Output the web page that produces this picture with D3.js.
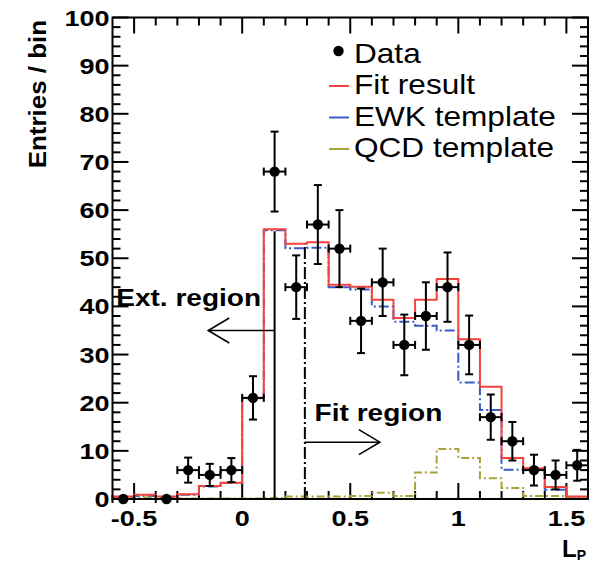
<!DOCTYPE html>
<html>
<head>
<meta charset="utf-8">
<script src="https://cdn.jsdelivr.net/npm/d3@7"></script>
<style>
  body { margin: 0; background: #fff; }
  text { font-family: "Liberation Sans", Arial, sans-serif; }
</style>
</head>
<body>
<svg id="chart"></svg>
<script>

// bins of width 0.1 from -0.6 to 1.6
var binCenters = [-0.55, -0.45, -0.35, -0.25, -0.15, -0.05, 0.05, 0.15, 0.25, 0.35, 0.45,
                  0.55, 0.65, 0.75, 0.85, 0.95, 1.05, 1.15, 1.25, 1.35, 1.45, 1.55];
var binHalf = 0.05;

var dataCounts = [0, null, 0, 6, 5, 6, 21, 68, 44, 57, 52, 37, 45, 32, 38, 44, 32, 17, 12, 6, 5, 7];
var dataErrors = [0, null, 0, 2.6, 2.3, 2.5, 4.5, 8.3, 6.6, 8.2, 8, 6.7, 7, 6.3, 7, 7.2, 6.1, 4.7, 4, 3.2, 3, 3.2];

var fitResult   = [0.5, 0.9, 0.5, 1.0, 2.7, 3.4, 21, 56, 53, 53.3, 44.5, 44.1, 41.4, 37.6, 41.4, 45.7, 33.2, 23.3, 8.5, 6.4, 2.5, 0.5];
var ewkTemplate = [0.4, 0.6, 0.4, 0.9, 2.6, 3.3, 20.9, 55.8, 52.1, 52.2, 44, 43.5, 40, 36.8, 36, 35, 24.2, 18.5, 6.1, 6.0, 1.9, 0.3];
var qcdTemplate = [0.1, 0.3, 0.1, 0.1, 0.1, 0.1, 0.1, 0.2, 0.5, 0.5, 0.5, 0.6, 1.3, 0.6, 5.5, 10.4, 8.5, 4.3, 2.3, 0.6, 0.6, 0.3];

var xMajor = [-0.5, 0, 0.5, 1, 1.5];
var xMajorLabels = ["-0.5", "0", "0.5", "1", "1.5"];
var yMajor = [0, 10, 20, 30, 40, 50, 60, 70, 80, 90, 100];

var legendItems = ["Data", "Fit result", "EWK template", "QCD template"];

// region cuts
var extCut = 0.15, fitCut = 0.29;

var width = 592, height = 562;
var pLeft = 112.5, pRight = 588, pTop = 17.5, pBottom = 499;

var svg = d3.select("#chart")
            .attr("width", width)
            .attr("height", height);

var x = d3.scaleLinear().domain([-0.6, 1.6]).range([pLeft, pRight]);
var y = d3.scaleLinear().domain([0, 100]).range([pBottom, pTop]);

var red = "#f2433c", blue = "#3b5cc4", olive = "#a9a23a";

// minor ticks every 0.1 / every 2
var xMinor = d3.range(-5, 16).map(i => i / 10).filter(v => xMajor.indexOf(v) < 0);
var yMinor = d3.range(0, 101, 2).filter(v => v % 10 !== 0);

var tickGp = svg.append("g").attr("stroke", "#000").attr("stroke-width", 2);

function tickSet(vals, len, horiz) {
  vals.forEach(v => {
    if (horiz) {
      tickGp.append("line").attr("x1", x(v)).attr("x2", x(v)).attr("y1", pBottom).attr("y2", pBottom - len);
      tickGp.append("line").attr("x1", x(v)).attr("x2", x(v)).attr("y1", pTop).attr("y2", pTop + len);
    } else {
      tickGp.append("line").attr("y1", y(v)).attr("y2", y(v)).attr("x1", pLeft).attr("x2", pLeft + len);
      tickGp.append("line").attr("y1", y(v)).attr("y2", y(v)).attr("x1", pRight).attr("x2", pRight - len);
    }
  });
}
tickSet(xMajor, 16, true);
tickSet(xMinor, 8, true);
tickSet(yMajor, 16, false);
tickSet(yMinor, 8, false);

// histograms as steps
function stepPoints(vals) {
  var pts = [];
  vals.forEach((v, i) => {
    pts.push([binCenters[i] - binHalf, v]);
    pts.push([binCenters[i] + binHalf, v]);
  });
  return pts;
}
var stepLine = d3.line().x(p => x(p[0])).y(p => y(p[1]));

svg.append("path").attr("d", stepLine(stepPoints(ewkTemplate)))
   .attr("fill", "none").attr("stroke", blue).attr("stroke-width", 2)
   .attr("stroke-dasharray", "10,3,2,3");
svg.append("path").attr("d", stepLine(stepPoints(qcdTemplate)))
   .attr("fill", "none").attr("stroke", olive).attr("stroke-width", 2)
   .attr("stroke-dasharray", "8,3,2,3");
svg.append("path").attr("d", stepLine(stepPoints(fitResult)))
   .attr("fill", "none").attr("stroke", red).attr("stroke-width", 2);

// region lines and arrows
svg.append("line").attr("x1", x(extCut)).attr("x2", x(extCut)).attr("y1", y(0)).attr("y2", y(55.6))
   .attr("stroke", "#000").attr("stroke-width", 2);
svg.append("line").attr("x1", x(fitCut)).attr("x2", x(fitCut)).attr("y1", y(0)).attr("y2", y(53))
   .attr("stroke", "#000").attr("stroke-width", 2).attr("stroke-dasharray", "12,3,2,3");

function arrow(x0, x1, yv) {
  var g = svg.append("g").attr("stroke", "#000").attr("stroke-width", 1.6).attr("fill", "none");
  var dir = x1 < x0 ? 1 : -1;
  g.append("line").attr("x1", x(x0)).attr("x2", x(x1)).attr("y1", y(yv)).attr("y2", y(yv));
  g.append("path").attr("d", "M" + (x(x1) + dir * 21) + "," + (y(yv) - 12.5) +
      "L" + x(x1) + "," + y(yv) + "L" + (x(x1) + dir * 21) + "," + (y(yv) + 12.5));
}
arrow(extCut, -0.157, 35);
arrow(fitCut, 0.637, 11.8);

svg.append("text").text("Ext. region")
   .attr("transform", "translate(" + x(-0.583) + "," + y(40.1) + ") scale(1.22,1)")
   .attr("font-weight", "bold").attr("font-size", 23);
svg.append("text").text("Fit region")
   .attr("transform", "translate(" + x(0.335) + "," + y(16.2) + ") scale(1.22,1)")
   .attr("font-weight", "bold").attr("font-size", 23);

// data points
var pts = binCenters.map((c, i) => ({ c: c, v: dataCounts[i], e: dataErrors[i] }))
                    .filter(d => d.v !== null);
var dataGp = svg.append("g").attr("stroke", "#000").attr("stroke-width", 2);
pts.forEach(d => {
  var cx = x(d.c), cy = y(d.v);
  dataGp.append("line").attr("x1", x(d.c - binHalf)).attr("x2", x(d.c + binHalf)).attr("y1", cy).attr("y2", cy);
  dataGp.append("line").attr("x1", x(d.c - binHalf)).attr("x2", x(d.c - binHalf)).attr("y1", cy - 4).attr("y2", cy + 4);
  dataGp.append("line").attr("x1", x(d.c + binHalf)).attr("x2", x(d.c + binHalf)).attr("y1", cy - 4).attr("y2", cy + 4);
  if (d.e > 0) {
    dataGp.append("line").attr("x1", cx).attr("x2", cx).attr("y1", y(d.v - d.e)).attr("y2", y(d.v + d.e));
    dataGp.append("line").attr("x1", cx - 4).attr("x2", cx + 4).attr("y1", y(d.v - d.e)).attr("y2", y(d.v - d.e));
    dataGp.append("line").attr("x1", cx - 4).attr("x2", cx + 4).attr("y1", y(d.v + d.e)).attr("y2", y(d.v + d.e));
  }
});
svg.append("g").selectAll("circle")
   .data(pts).enter().append("circle")
   .attr("cx", d => x(d.c)).attr("cy", d => y(d.v)).attr("r", 5.2).attr("fill", "#000");

// frame
svg.append("rect").attr("x", pLeft).attr("y", pTop).attr("width", pRight - pLeft).attr("height", pBottom - pTop)
   .attr("fill", "none").attr("stroke", "#000").attr("stroke-width", 2);

// tick labels
svg.selectAll(".ylab").data(yMajor).enter().append("text")
   .attr("transform", d => "translate(109.5," + (y(d) + 8) + ") scale(1.2,1)")
   .attr("text-anchor", "end").attr("font-weight", "bold").attr("font-size", 22.5)
   .text(d => d);
svg.selectAll(".xlab").data(xMajor).enter().append("text")
   .attr("transform", d => "translate(" + x(d) + ",525.5) scale(1.2,1)")
   .attr("text-anchor", "middle").attr("font-weight", "bold").attr("font-size", 22.5)
   .text((d, i) => xMajorLabels[i]);

// axis titles
svg.append("text").text("Entries / bin")
   .attr("transform", "translate(46,20) rotate(-90) scale(1.08,1)")
   .attr("text-anchor", "end").attr("font-weight", "bold").attr("font-size", 24);
var xt = svg.append("text").attr("transform", "translate(586,557)")
   .attr("text-anchor", "end").attr("font-weight", "bold").attr("font-size", 24);
xt.append("tspan").text("L");
xt.append("tspan").text("P").attr("font-size", 14).attr("dy", 3);

// legend
var legGp = svg.append("g");
var legColors = [null, red, blue, olive];
legendItems.forEach((name, i) => {
  var base = 62.5 + i * 31.5;
  if (i === 0) {
    legGp.append("circle").attr("cx", 338.5).attr("cy", base - 11.5).attr("r", 5.2).attr("fill", "#000");
  } else {
    legGp.append("line").attr("x1", 329).attr("x2", 349).attr("y1", base - 8).attr("y2", base - 8)
         .attr("stroke", legColors[i]).attr("stroke-width", 2);
  }
  legGp.append("text").text(name)
       .attr("transform", "translate(354," + base + ") scale(1.17,1)")
       .attr("font-size", 27);
});

</script>
</body>
</html>
